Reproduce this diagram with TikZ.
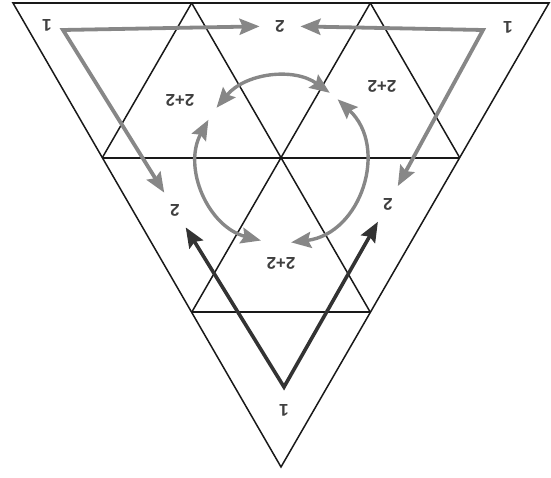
\documentclass[tikz,border=0pt]{standalone}
\usepackage{fontspec}
\setmainfont{Liberation Sans}
\usetikzlibrary{arrows.meta,calc}

\begin{document}
\begin{tikzpicture}[
  x=1pt,y=1pt,
  >={Stealth[length=20pt,width=16pt,inset=3pt]},
  grid/.style={draw=black!90,line width=1.5pt},
  row/.style={draw=black!90,line width=2.2pt},
  num/.style={font=\fontsize{17}{20}\selectfont\bfseries,text=black!75,rotate=180,inner sep=1pt},
  two/.style={num,circle,inner sep=9pt},
  pale/.style={draw=black!47,line width=3.8pt},
  dark/.style={draw=black!80,line width=3.6pt}
]
\useasboundingbox (0,0) rectangle (551,478);
% outer triangle and its thirds
\coordinate (A) at (13,475);
\coordinate (B) at (549,475);
\coordinate (C) at (281,11);
\coordinate (ab1) at ($(A)!1/3!(B)$);
\coordinate (ab2) at ($(A)!2/3!(B)$);
\coordinate (ac1) at ($(A)!1/3!(C)$);
\coordinate (ac2) at ($(A)!2/3!(C)$);
\coordinate (bc1) at ($(B)!1/3!(C)$);
\coordinate (bc2) at ($(B)!2/3!(C)$);
\draw[grid] (A) -- (B) -- (C) -- cycle;
\draw[row] (A) -- (B);
\draw[row] (ac1) -- (bc1);
\draw[row] (ac2) -- (bc2);
\draw[grid] (ab1) -- (bc2);
\draw[grid] (ab2) -- (bc1);
\draw[grid] (ab2) -- (ac2);
\draw[grid] (ab1) -- (ac1);
% labels
\node[num] (tl1) at (47,453) {1};
\node[num] (tr1) at (508,451) {1};
\node[num] (b1) at (284,68) {1};
\node[two] (top2) at (280,452) {2};
\node[two] (l2) at (175,268) {2};
\node[two] (r2) at (388,274) {2};
\node[num] (ul22) at (180,378) {2+2};
\node[num] (ur22) at (382,392) {2+2};
\node[num] (b22) at (281,215) {2+2};
% corners of the straight arrows
\coordinate (ctl) at (63,448);
\coordinate (ctr) at (483,448);
\coordinate (cb) at (284,91);
\draw[pale,<->] (top2) -- (ctl) -- (l2);
\draw[pale,<->] (top2) -- (ctr) -- (r2);
\draw[dark,<->] (l2) -- (cb) -- (r2);
% ring round the centre
\coordinate (o) at (281,318);
\coordinate (t1) at ($(o)+(141:83)$);
\coordinate (t2) at ($(o)+(54:83)$);
\coordinate (s1) at ($(o)+(151:83)$);
\coordinate (s2) at ($(o)+(256:83)$);
\coordinate (r1) at ($(o)+(47:83)$);
\coordinate (rr) at ($(o)+(-83:83)$);
\draw[pale,line width=3.4pt,<->] (t1) to[bend left=43] (t2);
\draw[pale,line width=3.4pt,<->] (s1) to[bend right=52,looseness=1.06] (s2);
\draw[pale,line width=3.4pt,<->] (r1) to[bend left=65,looseness=1.2] (rr);
\end{tikzpicture}
\end{document}
